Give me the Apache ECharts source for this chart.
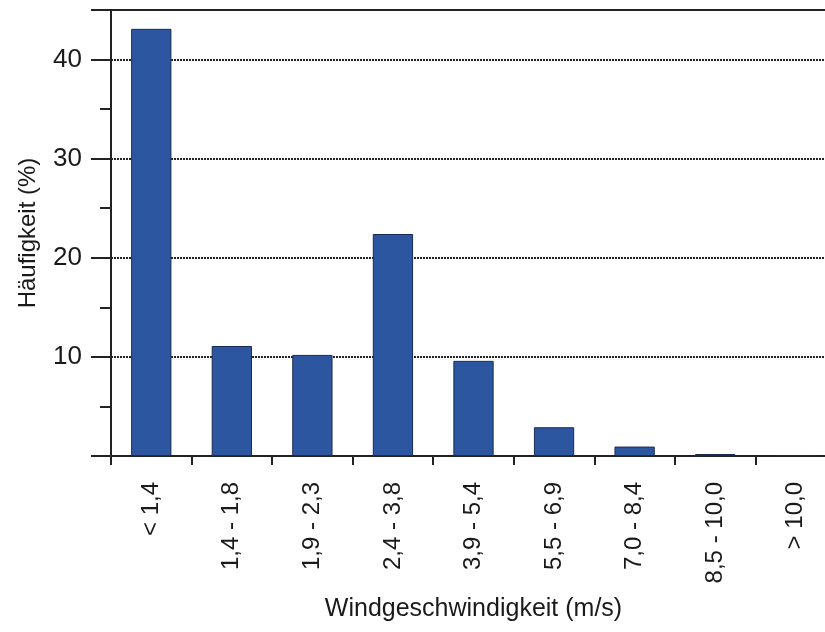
<!DOCTYPE html>
<html><head><meta charset="utf-8">
<script src="https://cdn.jsdelivr.net/npm/echarts@6/dist/echarts.min.js"></script>
<style>html,body{margin:0;padding:0;background:#fff}#c{width:825px;height:632px}</style>
</head><body><div id="c"></div>
<script>
const categories = ['< 1,4','1,4 - 1,8','1,9 - 2,3','2,4 - 3,8','3,9 - 5,4','5,5 - 6,9','7,0 - 8,4','8,5 - 10,0','> 10,0'];
const values = [43.1, 11.1, 10.2, 22.4, 9.6, 2.9, 0.95, 0.2, 0.1];
const yTicks = [0, 10, 20, 30, 40];
const xName = 'Windgeschwindigkeit (m/s)';
const yName = 'Häufigkeit (%)';

const font = 'Liberation Sans, Arial, Helvetica, sans-serif';
const chart = echarts.init(document.getElementById('c'));
chart.setOption({
  animation: false,
  grid: { left: 111, top: 10, bottom: 176, right: -11, outerBoundsMode: 'none', containLabel: false,
          show: true, borderColor: '#222', borderWidth: 2, backgroundColor: 'transparent' },
  xAxis: {
    type: 'category', data: categories,
    name: xName, nameLocation: 'middle', nameGap: 141,
    nameTextStyle: { fontFamily: font, fontSize: 25, color: '#1a1a1a' },
    axisLine: { lineStyle: { color: '#222', width: 2 } },
    axisTick: { show: true, length: 9, alignWithLabel: false, lineStyle: { color: '#222', width: 2 } },
    axisLabel: { rotate: 90, margin: 26, fontFamily: font, fontSize: 24, color: '#1a1a1a' },
    splitLine: { show: false }
  },
  yAxis: {
    type: 'value', min: 0, max: 45, interval: 10,
    name: yName, nameLocation: 'middle', nameGap: 71,
    nameTextStyle: { fontFamily: font, fontSize: 24, color: '#1a1a1a' },
    axisLine: { show: true, lineStyle: { color: '#222', width: 2 } },
    axisTick: { show: true, length: 20, lineStyle: { color: '#222', width: 2 } },
    minorTick: { show: true, splitNumber: 2, length: 11, lineStyle: { color: '#222', width: 2 } },
    axisLabel: { margin: 29, fontFamily: font, fontSize: 26, color: '#1a1a1a',
      formatter: v => (yTicks.includes(v) && v !== 0) ? String(v) : '' },
    splitLine: { show: true, lineStyle: { color: '#222', type: [2, 1], width: 2 } }
  },
  series: [{
    type: 'bar', data: values, barWidth: '50%',
    itemStyle: { color: '#2c56a0', borderColor: '#1a2b52', borderWidth: 1 }
  }]
});
</script></body></html>
